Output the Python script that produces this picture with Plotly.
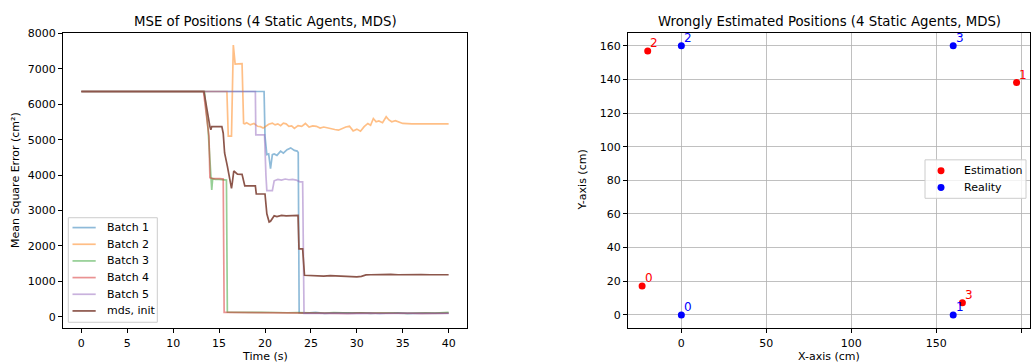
import plotly.graph_objects as go

# ---------------- data: left chart (MSE over time) ----------------
t_b1 = [0, 19.9, 20.0, 20.2, 20.4, 20.6, 20.8, 21.0, 21.3, 21.7, 22.0, 22.4, 22.8, 23.2, 23.5, 23.62,
        23.72, 24.5, 25.5, 26.5, 27.5, 28.5, 29.5, 30.5, 31.5, 32.5, 33.5, 34.5, 35.5, 36.5, 37.5, 38.5, 39.5, 40]
v_b1 = [6364, 6364, 5100, 4580, 4600, 4180, 4580, 4600, 4560, 4680, 4620, 4720, 4770, 4700, 4680, 4640,
        110, 100, 120, 95, 105, 110, 95, 100, 105, 90, 100, 110, 95, 100, 105, 95, 100, 100]

t_b2 = [0, 15.85, 16.0, 16.35, 16.55, 16.75, 17.5, 17.67, 17.8, 18.0, 18.4, 18.8, 19.2, 19.5, 19.8, 20.1,
        20.4, 20.8, 21.1, 21.4, 21.7, 22.0, 22.3, 22.6, 22.9, 23.2, 23.6, 24.0, 24.4, 24.8, 25.2, 25.6,
        26.0, 26.4, 26.8, 27.2, 27.6, 28.0, 28.4, 28.8, 29.2, 29.6, 30.0, 30.4, 30.8, 31.2, 31.5, 31.8,
        32.1, 32.4, 32.8, 33.2, 33.5, 33.8, 34.2, 34.6, 35.0, 36.0, 37.0, 38.0, 39.0, 40]
v_b2 = [6364, 6364, 5100, 5100, 7675, 7136, 7150, 5460, 5450, 5480, 5420, 5460, 5380, 5370, 5330, 5390,
        5440, 5470, 5420, 5450, 5400, 5470, 5450, 5380, 5390, 5320, 5400, 5380, 5460, 5360, 5390, 5380,
        5330, 5360, 5330, 5310, 5290, 5270, 5320, 5360, 5380, 5250, 5300, 5240, 5370, 5460, 5410, 5600,
        5510, 5530, 5480, 5650, 5560, 5510, 5540, 5490, 5460, 5450, 5450, 5455, 5450, 5450]

t_b3 = [0, 13.4, 13.8, 14.0, 14.1, 14.2, 14.3, 14.6, 15.0, 15.4, 15.8, 15.9, 16.5, 17.5, 18.5, 19.5,
        20.5, 21.5, 22.5, 23.5, 24.5, 25.5, 26.5, 27.5, 28.5, 29.5, 30.5, 31.5, 32.5, 33.5, 34.5, 35.5,
        36.5, 37.5, 38.5, 39.5, 40]
v_b3 = [6364, 6364, 5300, 4500, 3900, 3580, 3900, 3880, 3880, 3860, 3860, 130, 125, 130, 120, 125,
        115, 120, 110, 115, 105, 110, 100, 115, 105, 100, 110, 95, 105, 110, 100, 95,
        105, 110, 100, 105, 120]

t_b4 = [0, 13.3, 13.9, 14.0, 14.3, 14.7, 15.1, 15.45, 15.55, 16.0, 17.0, 18.0, 19.0, 20.0, 21.0, 22.0,
        23.0, 24.0, 25.0, 26.0, 27.0, 28.0, 29.0, 30.0, 31.0, 32.0, 33.0, 34.0, 35.0, 36.0, 37.0, 38.0,
        39.0, 40]
v_b4 = [6364, 6364, 5100, 3930, 3900, 3910, 3900, 3890, 120, 120, 118, 122, 120, 115, 95, 100,
        95, 100, 98, 95, 100, 92, 95, 100, 96, 94, 98, 95, 92, 96, 95, 93,
        95, 96]

t_b5 = [0, 18.95, 19.0, 19.95, 20.1, 20.2, 20.8, 21.0, 21.4, 21.8, 22.2, 22.6, 23.0, 23.4, 23.8, 24.1,
        24.25, 25.0, 26.0, 27.0, 28.0, 29.0, 30.0, 31.0, 32.0, 33.0, 34.0, 35.0, 36.0, 37.0, 38.0, 39.0, 40]
v_b5 = [6364, 6364, 5140, 5140, 4000, 3560, 3560, 3840, 3880, 3860, 3890, 3870, 3880, 3860, 3810, 3810,
        90, 95, 85, 90, 95, 88, 92, 90, 95, 88, 90, 92, 90, 88, 92, 90, 90]

t_mds = [0, 13.35, 14.0, 14.1, 14.2, 15.3, 15.45, 15.6, 15.9, 16.2, 16.35, 16.45, 16.6, 17.0, 17.5, 17.8,
         18.4, 18.95, 19.05, 20.0, 20.2, 20.45, 20.6, 20.8, 21.0, 21.3, 21.8, 22.3, 22.8, 23.3, 23.6, 23.7,
         24.1, 24.3, 25.0, 25.7, 26.4, 27.1, 27.8, 28.5, 29.2, 30.0, 30.5, 31.0, 31.5, 32.2, 33.0, 33.7,
         34.5, 35.2, 36.0, 37.0, 38.0, 39.0, 40]
v_mds = [6364, 6364, 5371, 5280, 5371, 5371, 5185, 4627, 4256, 3791, 3624, 3800, 4117, 4030, 4024, 3698,
         3698, 3698, 3466, 3466, 2908, 2676, 2695, 2788, 2850, 2830, 2862, 2850, 2855, 2862, 2862, 1915,
         1915, 1171, 1160, 1150, 1145, 1160, 1150, 1140, 1150, 1124, 1140, 1180, 1185, 1190, 1200, 1195,
         1185, 1190, 1195, 1190, 1185, 1190, 1185]

series_names = ["Batch 1", "Batch 2", "Batch 3", "Batch 4", "Batch 5", "mds, init"]
series_colors = ["#1f77b4", "#ff7f0e", "#2ca02c", "#d62728", "#9467bd", "#8c564b"]
series_opacity = [0.5, 0.5, 0.5, 0.5, 0.5, 1.0]
series_t = [t_b1, t_b2, t_b3, t_b4, t_b5, t_mds]
series_v = [v_b1, v_b2, v_b3, v_b4, v_b5, v_mds]

left_xticks = [0, 5, 10, 15, 20, 25, 30, 35, 40]
left_yticks = [0, 1000, 2000, 3000, 4000, 5000, 6000, 7000, 8000]

# ---------------- data: right chart (positions) ----------------
agent_ids = ["0", "1", "2", "3"]
est_x = [-23.1, 197.3, -19.8, 165.4]
est_y = [17.2, 138.2, 156.8, 7.2]
real_x = [0, 160, 0, 160]
real_y = [0, 0, 160, 160]
point_names = ["Estimation", "Reality"]
point_colors = ["red", "blue"]

right_xticks = [0, 50, 100, 150, 200]
right_yticks = [0, 20, 40, 60, 80, 100, 120, 140, 160]

# ---------------- figure ----------------
W, H = 1031, 363
FONT = "DejaVu Sans"


def px_x(p):
    return p / W


def px_y(p):
    return (H - p) / H


fig = go.Figure()

for name, t, v, c, op in zip(series_names, series_t, series_v, series_colors, series_opacity):
    fig.add_trace(go.Scatter(x=t, y=v, mode="lines", name=name,
                             line=dict(color=c, width=1.7), opacity=op,
                             xaxis="x", yaxis="y", showlegend=False))

for name, xs, ys, col in zip(point_names, [est_x, real_x], [est_y, real_y], point_colors):
    fig.add_trace(go.Scatter(x=xs, y=ys, mode="markers", name=name,
                             marker=dict(color=col, size=7),
                             xaxis="x2", yaxis="y2", showlegend=False))

annotations = []
for xs, ys, col in [(est_x, est_y, "red"), (real_x, real_y, "blue")]:
    for i, (x, y) in enumerate(zip(xs, ys)):
        annotations.append(dict(x=x + 1, y=y + 1, xref="x2", yref="y2", text=agent_ids[i],
                                showarrow=False, xanchor="left", yanchor="bottom",
                                yshift=-3, xshift=-1, font=dict(color=col, size=12, family=FONT)))

ydom = [px_y(328), px_y(28)]
left_dom = [px_x(63), px_x(467)]
right_dom = [px_x(628), px_x(1030)]

txt = dict(family=FONT, color="black")
annotations += [
    dict(text="MSE of Positions (4 Static Agents, MDS)", x=px_x(265), y=px_y(16.5), xref="paper", yref="paper",
         showarrow=False, xanchor="center", yanchor="middle", font=dict(size=13.3, **txt)),
    dict(text="Wrongly Estimated Positions (4 Static Agents, MDS)", x=px_x(829), y=px_y(16.5), xref="paper",
         yref="paper", showarrow=False, xanchor="center", yanchor="middle", font=dict(size=13.3, **txt)),
    dict(text="Time (s)", x=px_x(265), y=px_y(356), xref="paper", yref="paper", showarrow=False,
         xanchor="center", yanchor="middle", font=dict(size=11, **txt)),
    dict(text="X-axis (cm)", x=px_x(829), y=px_y(356), xref="paper", yref="paper", showarrow=False,
         xanchor="center", yanchor="middle", font=dict(size=11, **txt)),
    dict(text="Mean Square Error (cm²)", x=px_x(15.5), y=px_y(178), xref="paper", yref="paper",
         showarrow=False, textangle=-90, xanchor="center", yanchor="middle", font=dict(size=11, **txt)),
    dict(text="Y-axis (cm)", x=px_x(583), y=px_y(178), xref="paper", yref="paper",
         showarrow=False, textangle=-90, xanchor="center", yanchor="middle", font=dict(size=11, **txt)),
]

# ---------------- legends (matplotlib-style, drawn in paper space) ----------------
shapes = []
# left legend
lg_l, lg_r, lg_t, lg_b = 68.3, 157.3, 215.7, 321.7
shapes.append(dict(type="rect", xref="paper", yref="paper", x0=px_x(lg_l), x1=px_x(lg_r),
                   y0=px_y(lg_b), y1=px_y(lg_t), fillcolor="rgba(255,255,255,0.8)",
                   line=dict(color="#cccccc", width=1), layer="above"))
for i, (name, c, op) in enumerate(zip(series_names, series_colors, series_opacity)):
    yy = 225.7 + 16.9 * i
    shapes.append(dict(type="line", xref="paper", yref="paper", x0=px_x(72.5), x1=px_x(95.7),
                       y0=px_y(yy), y1=px_y(yy), line=dict(color=c, width=1.7), opacity=op, layer="above"))
    annotations.append(dict(text=name, x=px_x(104.5), y=px_y(yy), xref="paper", yref="paper",
                            showarrow=False, xanchor="left", yanchor="middle", font=dict(size=11, **txt)))
# right legend
rg_l, rg_r, rg_t, rg_b = 925, 1026, 157, 196
shapes.append(dict(type="rect", xref="paper", yref="paper", x0=px_x(rg_l), x1=px_x(rg_r),
                   y0=px_y(rg_b), y1=px_y(rg_t), fillcolor="rgba(255,255,255,0.8)",
                   line=dict(color="#cccccc", width=1), layer="above"))
for i, (name, c) in enumerate(zip(point_names, point_colors)):
    yy = 168 + 17 * i
    cx = rg_l + 16
    shapes.append(dict(type="circle", xref="paper", yref="paper", x0=px_x(cx - 3.5), x1=px_x(cx + 3.5),
                       y0=px_y(yy + 3.5), y1=px_y(yy - 3.5), fillcolor=c, line=dict(color=c, width=0),
                       layer="above"))
    annotations.append(dict(text=name, x=px_x(rg_l + 36.5), y=px_y(yy), xref="paper", yref="paper",
                            showarrow=False, xanchor="left", yanchor="middle", font=dict(size=11, **txt)))

axis_common = dict(showline=True, mirror=True, linecolor="black", linewidth=1, ticks="outside",
                   ticklen=4, tickwidth=1, tickcolor="black", zeroline=False, fixedrange=True,
                   tickfont=dict(size=11, family=FONT, color="black"))

fig.update_layout(
    width=W, height=H,
    margin=dict(l=0, r=0, t=0, b=0),
    paper_bgcolor="white", plot_bgcolor="white",
    font=dict(family=FONT, size=11, color="black"),
    hovermode=False,
    xaxis=dict(domain=left_dom, range=[-2, 42], tickvals=left_xticks, showgrid=False, anchor="y",
               **axis_common),
    yaxis=dict(domain=ydom, range=[-334, 8028], tickvals=left_yticks, showgrid=False, anchor="x",
               **axis_common),
    xaxis2=dict(domain=right_dom, range=[-31.4, 205.2], tickvals=right_xticks, showgrid=True,
                gridcolor="#b0b0b0", gridwidth=0.8, anchor="y2", **axis_common),
    yaxis2=dict(domain=ydom, range=[-8.06, 167.8], tickvals=right_yticks, showgrid=True,
                gridcolor="#b0b0b0", gridwidth=0.8, anchor="x2", **axis_common),
    annotations=annotations,
    shapes=shapes,
    showlegend=False,
)

fig.write_html("out.html",
               config={"displayModeBar": False, "staticPlot": True},
               post_script="document.body.style.margin='0px';document.body.style.padding='0px';"
                           "document.body.style.overflow='hidden';")
